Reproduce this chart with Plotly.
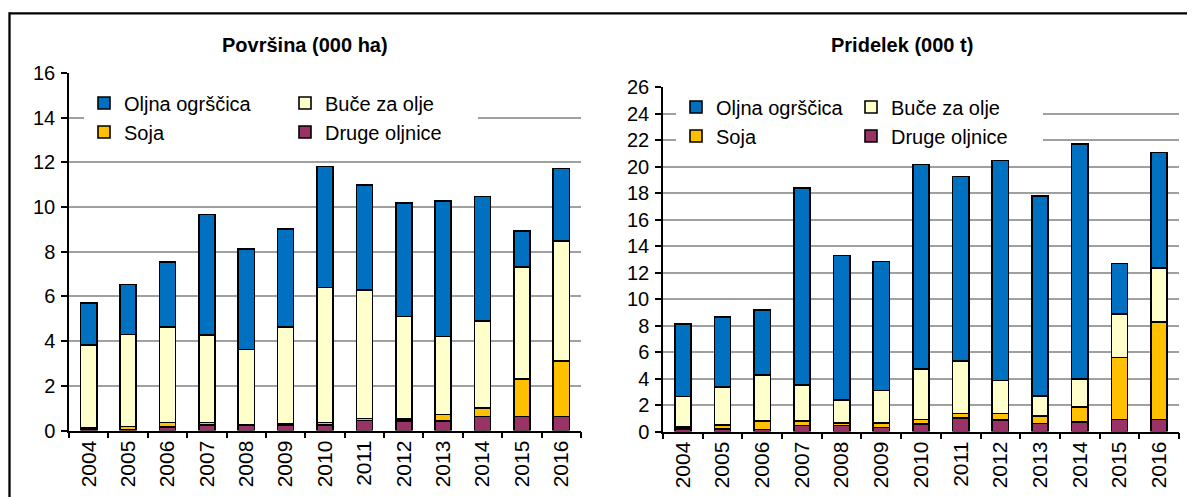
import plotly.graph_objects as go

# ---------------- data ----------------
years = ["2004", "2005", "2006", "2007", "2008", "2009", "2010",
         "2011", "2012", "2013", "2014", "2015", "2016"]

series_names = ["Oljna ogrščica", "Buče za olje", "Soja", "Druge oljnice"]
panel_titles = ["Površina (000 ha)", "Pridelek (000 t)"]

# Površina (000 ha)
area_druge = [0.08, 0.05, 0.15, 0.25, 0.25, 0.25, 0.25, 0.45, 0.42, 0.42, 0.63, 0.63, 0.63]
area_soja = [0.02, 0.13, 0.20, 0.10, 0.02, 0.03, 0.10, 0.08, 0.10, 0.30, 0.37, 1.67, 2.49]
area_buce = [3.74, 4.12, 4.28, 3.92, 3.36, 4.35, 6.05, 5.75, 4.58, 3.49, 3.89, 5.02, 5.36]
area_oljna = [1.87, 2.23, 2.90, 5.40, 4.50, 4.40, 5.41, 4.72, 5.09, 6.07, 5.59, 1.62, 3.24]

# Pridelek (000 t)
prod_druge = [0.20, 0.20, 0.15, 0.45, 0.45, 0.30, 0.55, 1.04, 0.88, 0.60, 0.74, 0.91, 0.91]
prod_soja = [0.15, 0.27, 0.64, 0.34, 0.17, 0.32, 0.36, 0.32, 0.48, 0.56, 1.09, 4.69, 7.36]
prod_buce = [2.29, 2.91, 3.48, 2.74, 1.75, 2.47, 3.81, 3.95, 2.49, 1.51, 2.12, 3.26, 4.08]
prod_oljna = [5.48, 5.24, 4.92, 14.83, 10.91, 9.74, 15.42, 13.95, 16.61, 15.09, 17.75, 3.82, 8.71]

colors = {
    "Oljna ogrščica": "#0070C0",
    "Buče za olje": "#FFFFCC",
    "Soja": "#FFC000",
    "Druge oljnice": "#993366",
}
ranks = {"Oljna ogrščica": 1, "Soja": 2, "Buče za olje": 3, "Druge oljnice": 4}
groups = {"Oljna ogrščica": "a", "Soja": "a", "Buče za olje": "b", "Druge oljnice": "b"}

FONT = "Liberation Sans, Arial, sans-serif"
# the page body has an 8px margin, so the figure is 8px smaller on each axis
OFF = 8
W, H = 1195 - OFF, 497 - OFF


def px_x(v):
    return (v - OFF) / W


def px_y(v):
    return (497 - v) / H


fig = go.Figure()

# legend column widths (px) per panel: first column, second column
legend_widths = {
    "legend": {"a": 156, "b": 148},
    "legend2": {"a": 130, "b": 147},
}

panels = [
    ("x", "y", "legend", {"Druge oljnice": area_druge, "Soja": area_soja,
                          "Buče za olje": area_buce, "Oljna ogrščica": area_oljna}),
    ("x2", "y2", "legend2", {"Druge oljnice": prod_druge, "Soja": prod_soja,
                             "Buče za olje": prod_buce, "Oljna ogrščica": prod_oljna}),
]

for xa, ya, lg, data in panels:
    for name in ["Druge oljnice", "Soja", "Buče za olje", "Oljna ogrščica"]:
        fig.add_trace(go.Bar(
            x=years, y=data[name], name=name, xaxis=xa, yaxis=ya,
            legend=lg, legendgroup=lg + groups[name], legendrank=ranks[name],
            legendwidth=legend_widths[lg][groups[name]],
            marker=dict(color=colors[name], line=dict(color="black", width=1.6)),
        ))

xaxis_common = dict(
    type="category", tickson="boundaries", ticks="outside", ticklen=6,
    tickcolor="black", tickwidth=1.5, showline=True, linecolor="black",
    linewidth=1.5, showgrid=False, tickangle=-90,
    tickfont=dict(family=FONT, size=21, color="black"),
    automargin=False, fixedrange=True,
)
yaxis_common = dict(
    dtick=2, tick0=0, ticks="outside", ticklen=6, tickcolor="black",
    tickwidth=1.5, showline=True, linecolor="black", linewidth=1.5,
    showgrid=True, gridcolor="#A0A0A0", gridwidth=1.5, zeroline=False,
    tickfont=dict(family=FONT, size=20, color="black"),
    automargin=False, ticklabelstandoff=2,
)

legend_common = dict(
    orientation="h", traceorder="grouped", xanchor="left", yanchor="top",
    bgcolor="white", borderwidth=0, font=dict(family=FONT, size=20, color="black"),
    itemwidth=30,
)

fig.update_layout(
    width=W, height=H,
    margin=dict(l=0, r=0, t=0, b=0),
    paper_bgcolor="white", plot_bgcolor="white",
    barmode="stack", bargap=0.59,
    font=dict(family=FONT, color="black"),
    xaxis=dict(domain=[px_x(69), px_x(581)], anchor="y", **xaxis_common),
    yaxis=dict(domain=[px_y(430.5), px_y(73)], anchor="x", range=[0, 16], **yaxis_common),
    xaxis2=dict(domain=[px_x(663), px_x(1179)], anchor="y2", **xaxis_common),
    yaxis2=dict(domain=[px_y(431.5), px_y(87)], anchor="x2", range=[0, 26], **yaxis_common),
    legend=dict(x=px_x(84), y=px_y(83.5), **legend_common),
    legend2=dict(x=px_x(676), y=px_y(87.5), **legend_common),
    annotations=[
        dict(text="<b>" + panel_titles[0] + "</b>", x=px_x(305), y=px_y(45),
             xref="paper", yref="paper", xanchor="center", yanchor="middle",
             showarrow=False, font=dict(family=FONT, size=20, color="black")),
        dict(text="<b>" + panel_titles[1] + "</b>", x=px_x(902), y=px_y(45),
             xref="paper", yref="paper", xanchor="center", yanchor="middle",
             showarrow=False, font=dict(family=FONT, size=20, color="black")),
    ],
    shapes=[
        dict(type="line", xref="paper", yref="paper", x0=px_x(9.5), x1=1.0,
             y0=px_y(13.3), y1=px_y(13.3), line=dict(color="black", width=2.3)),
        dict(type="line", xref="paper", yref="paper", x0=px_x(9.5), x1=px_x(9.5),
             y0=px_y(12.2), y1=0, line=dict(color="black", width=2.3)),
    ],
)

fig.write_html("out.html")
